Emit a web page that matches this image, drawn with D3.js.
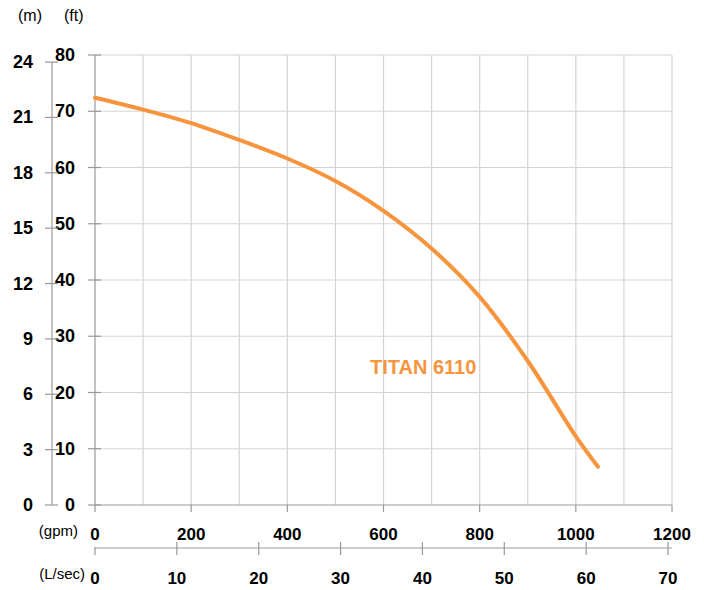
<!DOCTYPE html>
<html>
<head>
<meta charset="utf-8">
<script src="https://cdn.jsdelivr.net/npm/d3@7"></script>
<style>
body { margin: 0; background: #fff; }
text { font-family: "Liberation Sans", Arial, sans-serif; }
</style>
</head>
<body>
<svg width="704" height="590"></svg>
<script>
// curve
var flow_gpm = [0, 100, 200, 300, 400, 500, 600, 700, 800, 900, 1000, 1046]
var head_ft = [72.4, 70.3, 67.9, 64.9, 61.6, 57.6, 52.3, 45.6, 37.0, 25.6, 12.2, 6.8]
var ft_ticks = [0, 10, 20, 30, 40, 50, 60, 70, 80]
var m_ticks = [0, 3, 6, 9, 12, 15, 18, 21, 24]
var gpm_ticks = [0, 200, 400, 600, 800, 1000, 1200]
var ls_ticks = [0, 10, 20, 30, 40, 50, 60, 70]
var series_name = "TITAN 6110"

var svg = d3.select("svg")
var orange = "#f7943e"
var axis_col = "#999"
var grid_col = "#d4d4d4"

var x = d3.scaleLinear().domain([0, 1200]).range([95, 672])
var y = d3.scaleLinear().domain([0, 80]).range([505, 55])
var y_m = d3.scaleLinear().domain([0, 80 * 0.3048]).range([505, 55])
var x_ls = d3.scaleLinear().domain([0, 70]).range([95, 668])

/* grille */
var g_grid = svg.append("g").attr("class", "grille")
g_grid.selectAll(".vgrid")
  .data(d3.range(100, 1201, 100))
  .enter().append("line")
  .attr("x1", x).attr("x2", x)
  .attr("y1", y(80)).attr("y2", y(0))
  .attr("stroke", grid_col).attr("stroke-width", 1.2)
g_grid.selectAll(".hgrid")
  .data(ft_ticks.filter(function(d){ return d > 0 }))
  .enter().append("line")
  .attr("x1", x(0)).attr("x2", x(1200))
  .attr("y1", y).attr("y2", y)
  .attr("stroke", grid_col).attr("stroke-width", 1.2)

/* ft axis */
svg.append("line").attr("x1", x(0)).attr("x2", x(0)).attr("y1", y(80)).attr("y2", y(0))
  .attr("stroke", axis_col).attr("stroke-width", 1.2)
svg.selectAll(".ft_tick").data(ft_ticks).enter().append("line")
  .attr("x1", x(0) - 7).attr("x2", x(0) + 6)
  .attr("y1", y).attr("y2", y)
  .attr("stroke", axis_col).attr("stroke-width", 1.2)
svg.selectAll(".ft_lab").data(ft_ticks).enter().append("text")
  .attr("x", 75).attr("y", function(d){ return y(d) + 6 })
  .attr("text-anchor", "end")
  .attr("font-size", 18).attr("font-weight", "bold")
  .text(function(d){ return d })

/* m axis */
svg.append("line").attr("x1", 52).attr("x2", 52).attr("y1", y_m(24)).attr("y2", y_m(0))
  .attr("stroke", axis_col).attr("stroke-width", 1.2)
svg.selectAll(".m_tick").data(m_ticks).enter().append("line")
  .attr("x1", 45).attr("x2", 58)
  .attr("y1", y_m).attr("y2", y_m)
  .attr("stroke", axis_col).attr("stroke-width", 1.2)
svg.selectAll(".m_lab").data(m_ticks).enter().append("text")
  .attr("x", 33).attr("y", function(d){ return y_m(d) + 6 })
  .attr("text-anchor", "end")
  .attr("font-size", 18).attr("font-weight", "bold")
  .text(function(d){ return d })

svg.append("text").attr("x", 18).attr("y", 21).attr("font-size", 16).text("(m)")
svg.append("text").attr("x", 64).attr("y", 21).attr("font-size", 16).text("(ft)")

/* gpm axis */
svg.append("line").attr("x1", x(0)).attr("x2", x(1200)).attr("y1", y(0)).attr("y2", y(0))
  .attr("stroke", axis_col).attr("stroke-width", 1.2)
svg.selectAll(".gpm_tick").data(gpm_ticks).enter().append("line")
  .attr("x1", x).attr("x2", x)
  .attr("y1", y(0)).attr("y2", y(0) + 7)
  .attr("stroke", axis_col).attr("stroke-width", 1.2)
svg.selectAll(".gpm_lab").data(gpm_ticks).enter().append("text")
  .attr("x", x).attr("y", 540)
  .attr("text-anchor", "middle")
  .attr("font-size", 17).attr("font-weight", "bold")
  .text(function(d){ return d })
svg.append("text").attr("x", 78).attr("y", 536).attr("text-anchor", "end")
  .attr("font-size", 15).text("(gpm)")

/* L/sec axis */
svg.append("line").attr("x1", x_ls(0)).attr("x2", x(1200)).attr("y1", 548).attr("y2", 548)
  .attr("stroke", axis_col).attr("stroke-width", 1.2)
svg.selectAll(".ls_tick").data(ls_ticks).enter().append("line")
  .attr("x1", x_ls).attr("x2", x_ls)
  .attr("y1", function(d){ return d == 0 ? 547 : 542 }).attr("y2", 555)
  .attr("stroke", axis_col).attr("stroke-width", 1.2)
svg.selectAll(".ls_lab").data(ls_ticks).enter().append("text")
  .attr("x", x_ls).attr("y", 584)
  .attr("text-anchor", "middle")
  .attr("font-size", 17).attr("font-weight", "bold")
  .text(function(d){ return d })
svg.append("text").attr("x", 85).attr("y", 579).attr("text-anchor", "end")
  .attr("font-size", 15).text("(L/sec)")

/* courbe */
var pts = flow_gpm.map(function(d, i){ return [d, head_ft[i]] })
var line = d3.line()
  .x(function(d){ return x(d[0]) })
  .y(function(d){ return y(d[1]) })
  .curve(d3.curveCatmullRom.alpha(0.5))
svg.append("path").datum(pts)
  .attr("d", line)
  .attr("fill", "none")
  .attr("stroke", orange)
  .attr("stroke-width", 4)
  .attr("stroke-linecap", "round")

svg.append("text").attr("x", 370).attr("y", 374)
  .attr("fill", orange).attr("font-size", 20).attr("font-weight", "bold")
  .text(series_name)
</script>
</body>
</html>
